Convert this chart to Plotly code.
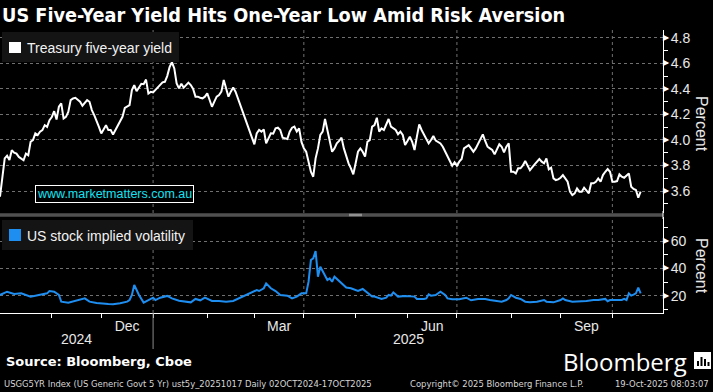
import numpy as np
import pandas as pd
import plotly.graph_objects as go

# ---------------- data ----------------
START = "2024-10-02"
LAST = "2025-10-17"
AXIS_SPAN_BDAYS = 281.5  # visible x span in trading days from START

title_text = "US Five-Year Yield Hits One-Year Low Amid Risk Aversion"
yield_name = "Treasury five-year yield"
vix_name = "US stock implied volatility"

# US 5y yield, one value per trading day from START (None = not read)
yield_pct = [
    3.556, None, 3.856, 3.877, 3.843, 3.92, 3.901, 3.893, 3.867, None,
    3.841, 3.893, 3.88, 3.986, 3.999, 4.051, 4.038, 4.064, 4.077, 4.116,
    4.103, 4.155, 4.18, 4.225, 4.16, 4.26, 4.286, 4.168, 4.181, 4.22,
    4.312, 4.325, 4.33, 4.312, 4.299, 4.268, 4.286, 4.312, 4.299, 4.234,
    4.194, 4.155, 4.103, 4.051, 4.09, 4.116, 4.077, 4.077, 4.043, 4.077,
    4.103, 4.142, 4.181, 4.251, 4.26, 4.273, 4.39, 4.429, 4.382, 4.416,
    4.44, 4.437, 4.473, 4.364, 4.377, 4.372, 4.39, 4.416, None, 4.451,
    4.455, 4.50, 4.57, 4.61, 4.56, 4.443, 4.404, 4.44, 4.41, 4.43,
    4.449, 4.43, 4.40, 4.339, 4.339, 4.331, 4.326, 4.339, 4.365, 4.313,
    4.26, 4.3, 4.339, 4.352, 4.378, 4.469, 4.404, 4.339, 4.378, 4.41,
    4.378, 4.326, 4.274, 4.234, 4.169, 4.117, 4.078, 4.03, 3.966, 4.052,
    4.078, 4.065, 4.083, 3.973, 4.013, 4.052, 4.05, 4.091, 4.096, 4.078,
    4.018, 4.013, 4.007, 4.065, 4.096, 4.104, 4.065, 4.091, 3.985, 3.934,
    3.908, 3.83, 3.751, 3.712, 3.856, 3.934, 4.039, 4.065, 4.164, 4.078,
    3.987, 3.908, 3.934, 3.973, 3.992, 4.018, 3.934, 3.869, 3.817, 3.778,
    3.731, 3.817, 3.908, 3.934, 3.908, 3.869, 3.986, 3.999, 4.104, 4.117,
    4.174, 4.065, 4.091, 4.078, 4.117, 4.164, 4.104, 4.091, 4.078, 4.044,
    4.065, 4.039, 3.96, 3.992, 4.026, 3.986, 3.921, 4.026, 4.122, 4.078,
    4.039, 4.0, 3.973, 4.0, 4.031, 3.995, 3.987, 3.973, 3.947, 3.908,
    3.869, 3.83, 3.798, 3.825, 3.798, 3.83, 3.851, 3.934, 3.947, 3.96,
    3.934, 3.908, 3.934, 3.973, 3.999, 4.044, 3.992, 3.947, 3.934, 3.921,
    3.887, 3.921, 3.966, 3.947, 3.903, 3.947, 3.973, 3.751, 3.751, 3.738,
    3.778, 3.778, 3.80, 3.835, 3.804, 3.764, None, 3.809, 3.835, 3.851,
    3.83, 3.817, 3.856, 3.77, 3.783, 3.699, 3.686, 3.691, 3.704, 3.725,
    3.699, 3.673, 3.595, 3.569, 3.582, 3.621, 3.595, 3.595, 3.626, 3.6,
    3.582, 3.66, 3.66, 3.673, 3.699, 3.673, 3.725, 3.751, 3.772, 3.751,
    3.673, 3.673, 3.678, 3.73, 3.712, 3.704, 3.725, 3.738, 3.634, 3.616,
    3.608, 3.548, 3.595,
]

# VIX: trading-day offsets from START and values
vix_day = [
    0, 3, 6, 9, 13, 15, 19, 20, 21, 23,
    25, 26, 29, 33, 36, 38, 41, 46, 48, 51,
    54, 55, 56, 57, 58, 59, 61, 63, 65, 66,
    68, 71, 73, 76, 78, 81, 83, 85, 87, 90,
    93, 96, 99, 101, 104, 106, 108, 109, 110, 112,
    113, 115, 117, 119, 122, 124, 126, 128, 130, 131,
    132, 133, 134, 135, 136, 137, 138, 139, 140, 141,
    142, 145, 147, 149, 152, 154, 155, 158, 159, 162,
    164, 165, 166, 167, 169, 172, 176, 177, 180, 181,
    182, 183, 185, 187, 189, 190, 192, 195, 198, 200,
    203, 206, 208, 211, 213, 215, 216, 217, 219, 221,
    223, 225, 228, 231, 232, 235, 238, 239, 240, 243,
    246, 249, 252, 254, 257, 258, 259, 261, 264, 265,
    266, 267, 268, 269, 270, 271, 272,
]
vix_pct = [
    20.5, 22.9, 21.2, 21.7, 19.3, 20.0, 21.0, 21.7, 23.4, 22.9,
    20.5, 15.6, 14.9, 16.8, 18.0, 15.6, 14.6, 13.9, 13.7, 14.4,
    15.6, 16.8, 20.5, 27.8, 24.1, 20.5, 14.9, 16.8, 18.5, 16.8,
    18.5, 19.8, 18.0, 16.3, 15.6, 15.1, 17.6, 16.6, 18.5, 16.1,
    16.1, 15.6, 16.1, 17.6, 20.0, 21.7, 23.4, 24.1, 23.4, 25.4,
    29.0, 25.4, 23.4, 20.5, 20.0, 18.0, 19.3, 21.7, 21.7, 30.2,
    46.1, 47.3, 52.7, 33.9, 41.2, 38.0, 33.9, 31.5, 32.7, 30.2,
    33.9, 29.0, 25.9, 25.4, 23.4, 24.9, 23.4, 19.3, 19.3, 17.6,
    18.5, 20.5, 20.0, 22.4, 19.3, 19.8, 19.3, 17.6, 17.6, 18.0,
    21.0, 20.0, 20.5, 22.9, 20.5, 18.0, 17.3, 17.3, 18.5, 16.6,
    17.6, 17.6, 16.8, 16.1, 15.6, 16.8, 18.0, 20.5, 18.5, 17.6,
    15.6, 15.1, 15.6, 16.8, 15.6, 15.1, 16.8, 18.0, 16.8, 15.6,
    15.6, 16.1, 16.8, 16.8, 17.6, 15.9, 16.8, 16.8, 16.8, 17.6,
    16.8, 21.7, 20.0, 20.7, 21.7, 25.9, 21.7,
]

yield_ticks = [3.6, 3.8, 4.0, 4.2, 4.4, 4.6, 4.8]
yield_tick_text = ["3.6", "3.8", "4.0", "4.2", "4.4", "4.6", "4.8"]
vix_ticks = [20, 40, 60]
vix_tick_text = ["20", "40", "60"]
label_months = ["2024-12", "2025-03", "2025-06", "2025-09"]
label_text = ["Dec", "Mar", "Jun", "Sep"]
quarter_starts = ["2025-01-01", "2025-04-01", "2025-07-01", "2025-10-01"]
year_text = ["2024", "2025"]
source_text = "Source: Bloomberg, Cboe"
footer_left = "USGG5YR Index (US Generic Govt 5 Yr) ust5y_20251017 Daily 02OCT2024-17OCT2025"
footer_mid = "Copyright\u00a9 2025 Bloomberg Finance L.P."
footer_right = "19-Oct-2025 08:03:07"

# ---------------- helpers ----------------
tdays = pd.bdate_range(START, LAST)
yield_dates = tdays[: len(yield_pct)]
vix_dates = tdays[vix_day]


def bday_pos(f):
    """fractional trading-day offset from START -> timestamp"""
    n = int(np.floor(f))
    base = pd.bdate_range(START, periods=n + 1)[-1]
    return base + pd.Timedelta(hours=24 * (f - n))


x_end = bday_pos(AXIS_SPAN_BDAYS)
month_starts = pd.date_range("2024-11-01", "2025-10-31", freq="BMS")
month_mid = []
for m in label_months:
    mb = pd.bdate_range(pd.Timestamp(m + "-01"), pd.Timestamp(m + "-01") + pd.offsets.MonthEnd(0))
    month_mid.append(bday_pos(np.busday_count(START, mb[0].date()) + len(mb) / 2))
jan_idx = np.busday_count(START, "2025-01-01")
year_pos = [bday_pos(jan_idx / 2), bday_pos((jan_idx + AXIS_SPAN_BDAYS) / 2)]

W, H = 713, 392
ML, MR, MT, MB = 0, 50, 30, 79
PW, PH = W - ML - MR, H - MT - MB
PB = H - MB


def ax(px):
    return (px - ML) / PW


def ay(py):
    return (PB - py) / PH


NARROW = "Liberation Sans Narrow, DejaVu Sans Condensed, Arial Narrow, sans-serif"
SANS = "Liberation Sans, Arial, sans-serif"
TXT = "#e8e8e8"
GRID = "#707070"
BLUE = "#1f8ef1"

# ---------------- figure ----------------
fig = go.Figure()
fig.add_trace(go.Scatter(x=yield_dates, y=yield_pct, mode="lines", connectgaps=True,
                         line=dict(color="white", width=2), xaxis="x", yaxis="y",
                         hoverinfo="skip", showlegend=False))
fig.add_trace(go.Scatter(x=vix_dates, y=vix_pct, mode="lines",
                         line=dict(color=BLUE, width=2), xaxis="x", yaxis="y2",
                         hoverinfo="skip", showlegend=False))
# arrow-head tick markers on the right axes
for yv, ya in ((yield_ticks, "y"), (vix_ticks, "y2")):
    fig.add_trace(go.Scatter(x=[x_end] * len(yv), y=yv, mode="text", text=["\u25b6"] * len(yv),
                             textposition="middle right", cliponaxis=False,
                             textfont=dict(family="DejaVu Sans", size=8, color="white"),
                             xaxis="x", yaxis=ya, hoverinfo="skip", showlegend=False))

shapes = []
# quarter gridlines (both panels)
for q in quarter_starts:
    for yr in ("y domain", "y2 domain"):
        shapes.append(dict(type="line", xref="x", yref=yr, x0=q, x1=q, y0=0, y1=1,
                           line=dict(color=GRID, width=1, dash="3px,3px"), layer="below"))
# year separator under axis
shapes.append(dict(type="line", xref="x", yref="paper", x0=quarter_starts[0], x1=quarter_starts[0],
                   y0=0, y1=ay(349), line=dict(color="#8a8a8a", width=1)))
# panel separator bar
shapes.append(dict(type="rect", xref="paper", yref="paper", x0=0, x1=1, y0=ay(216.8), y1=ay(213.2),
                   fillcolor="#505050", line=dict(width=0), layer="above"))
for gy in (214.3, 215.7):
    shapes.append(dict(type="line", xref="paper", yref="paper", x0=ax(349), x1=ax(362),
                       y0=ay(gy), y1=ay(gy), line=dict(color="#a0a0a0", width=1), layer="above"))
shapes.append(dict(type="line", xref="paper", yref="paper", x0=1, x1=1, y0=ay(219), y1=ay(211),
                   line=dict(color="white", width=1), layer="above"))
# legend boxes + swatches
for (x0, y0, x1, y1), sw, col in (((2, 32, 179, 62), (9, 42, 21, 53), "white"),
                                   ((2, 220, 193, 250), (9, 229, 21, 241), BLUE)):
    shapes.append(dict(type="rect", xref="paper", yref="paper", x0=ax(x0), x1=ax(x1),
                       y0=ay(y1), y1=ay(y0), fillcolor="#141414", line=dict(width=0), layer="above"))
    shapes.append(dict(type="rect", xref="paper", yref="paper", x0=ax(sw[0]), x1=ax(sw[2]),
                       y0=ay(sw[3]), y1=ay(sw[1]), fillcolor=col, line=dict(width=0), layer="above"))
# Bloomberg icon
shapes.append(dict(type="rect", xref="paper", yref="paper", x0=ax(694), x1=ax(711), y0=ay(369), y1=ay(352),
                   fillcolor="white", line=dict(width=0)))
for bx, top in ((697, 361), (700.5, 357), (704, 359), (707.5, 362)):
    shapes.append(dict(type="rect", xref="paper", yref="paper", x0=ax(bx), x1=ax(bx + 2), y0=ay(366), y1=ay(top),
                       fillcolor="black", line=dict(width=0)))

annotations = [
    dict(text=yield_name, xref="paper", yref="paper", x=ax(25), y=ay(47.5), xanchor="left", yanchor="middle",
         showarrow=False, font=dict(family=SANS, size=14, color="#f2f2f2")),
    dict(text=vix_name, xref="paper", yref="paper", x=ax(25), y=ay(235.5), xanchor="left", yanchor="middle",
         showarrow=False, font=dict(family=SANS, size=14, color="#f2f2f2")),
    dict(text="www.marketmatters.com.au", xref="paper", yref="paper", x=ax(114.5), y=ay(194),
         xanchor="center", yanchor="middle", showarrow=False, bgcolor="black",
         bordercolor="white", borderwidth=1, borderpad=1,
         font=dict(family=SANS, size=12.5, color="#17e2f2")),
    dict(text="Percent", xref="paper", yref="paper", x=ax(702), y=ay(124), textangle=90,
         xanchor="center", yanchor="middle", showarrow=False, font=dict(family=SANS, size=16, color=TXT)),
    dict(text="Percent", xref="paper", yref="paper", x=ax(702), y=ay(266), textangle=90,
         xanchor="center", yanchor="middle", showarrow=False, font=dict(family=SANS, size=16, color=TXT)),
    dict(text=source_text, xref="paper", yref="paper", x=ax(4), y=ay(362), xanchor="left", yanchor="middle",
         showarrow=False, font=dict(family="DejaVu Sans", size=13, color="white", weight="bold")),
    dict(text="Bloomberg", xref="paper", yref="paper", x=ax(689), y=ay(361), xanchor="right", yanchor="middle",
         showarrow=False, font=dict(family="Open Sans", size=24, color="white", weight=500)),
    dict(text=footer_left, xref="paper", yref="paper", x=ax(2), y=ay(383), xanchor="left", yanchor="middle",
         showarrow=False, font=dict(family=NARROW, size=9.4, color="#d6d6d6")),
    dict(text=footer_mid, xref="paper", yref="paper", x=ax(408), y=ay(383), xanchor="left", yanchor="middle",
         showarrow=False, font=dict(family=NARROW, size=9.4, color="#d6d6d6")),
    dict(text=footer_right, xref="paper", yref="paper", x=ax(711), y=ay(383), xanchor="right", yanchor="middle",
         showarrow=False, font=dict(family=NARROW, size=9.4, color="#d6d6d6")),
]
for t, xp in zip(year_text, year_pos):
    annotations.append(dict(text=t, xref="x", yref="paper", x=xp, y=ay(339), xanchor="center",
                            yanchor="middle", showarrow=False, font=dict(family=SANS, size=14, color=TXT)))

fig.update_layout(
    width=W, height=H,
    margin=dict(l=ML, r=MR, t=MT, b=MB, pad=0),
    paper_bgcolor="black", plot_bgcolor="black",
    showlegend=False, hovermode=False,
    title=dict(text=title_text, x=2 / W, xref="container", xanchor="left", y=1 - 15 / H, yref="container",
               yanchor="middle", font=dict(family=NARROW, size=19.7, color="white", weight="bold")),
    xaxis=dict(domain=[0, 1], anchor="y2", type="date", range=[pd.Timestamp(START), x_end],
               rangebreaks=[dict(bounds=["sat", "mon"])], showgrid=False, zeroline=False,
               showline=True, linecolor="white", linewidth=1, ticks="",
               tickmode="array", tickvals=month_mid, ticktext=label_text,
               tickfont=dict(family=SANS, size=14, color=TXT),
               minor=dict(tickmode="array", tickvals=list(month_starts), ticks="outside", ticklen=4,
                          tickcolor="white", tickwidth=1, showgrid=False),
               automargin=False, fixedrange=True),
    yaxis=dict(domain=[ay(213), 1], anchor="x", side="right", range=[3.428, 4.861],
               tickmode="array", tickvals=yield_ticks, ticktext=yield_tick_text,
               ticks="outside", ticklen=4, tickcolor="white", showline=True, linecolor="white", linewidth=1,
               showgrid=True, gridcolor=GRID, griddash="3px,3px", gridwidth=1, zeroline=False,
               minor=dict(tickmode="linear", tick0=0, dtick=0.1, ticks="outside", ticklen=4,
                          tickcolor="white", showgrid=False),
               tickfont=dict(family=SANS, size=14, color=TXT), automargin=False, fixedrange=True),
    yaxis2=dict(domain=[0, ay(217)], anchor="x", side="right", range=[7.3, 77.6],
                tickmode="array", tickvals=vix_ticks, ticktext=vix_tick_text,
                ticks="outside", ticklen=4, tickcolor="white", showline=True, linecolor="white", linewidth=1,
                showgrid=True, gridcolor=GRID, griddash="3px,3px", gridwidth=1, zeroline=False,
                minor=dict(tickmode="linear", tick0=0, dtick=10, ticks="outside", ticklen=4,
                           tickcolor="white", showgrid=False),
                tickfont=dict(family=SANS, size=14, color=TXT), automargin=False, fixedrange=True),
    shapes=shapes,
    annotations=annotations,
)

fig.write_html("out.html", config={"displayModeBar": False},
               post_script="document.body.style.margin='0px';document.body.style.overflow='hidden';")
